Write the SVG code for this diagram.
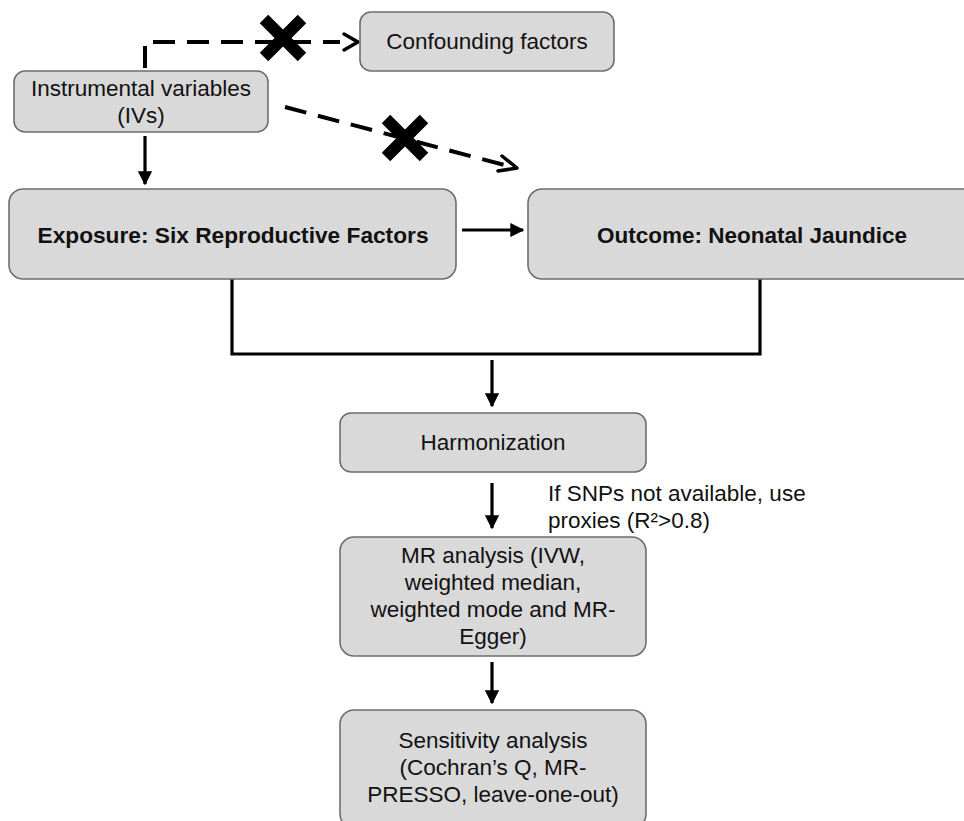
<svg xmlns="http://www.w3.org/2000/svg" width="964" height="821" viewBox="0 0 964 821">
<style>
  .box { fill: #d9d9d9; stroke: #6e6e6e; stroke-width: 1.6; }
  .t { font-family: "Liberation Sans", Arial, sans-serif; font-size: 22.5px; fill: #111; text-anchor: middle; }
  .tb { font-family: "Liberation Sans", Arial, sans-serif; font-size: 22.5px; font-weight: bold; fill: #111; text-anchor: middle; }
  .side { font-family: "Liberation Sans", Arial, sans-serif; font-size: 22.5px; fill: #111; }
  .solid { stroke: #000; stroke-width: 3.2; fill: none; }
  .dash { stroke: #000; stroke-width: 4; fill: none; stroke-dasharray: 22 12; }
  .open { stroke: #000; stroke-width: 3.5; fill: none; stroke-linecap: round; stroke-linejoin: round; }
  .cross { stroke: #000; stroke-width: 12; fill: none; }
</style>
<defs>
  <marker id="ah" viewBox="0 0 10 10" refX="9" refY="5" markerWidth="4.4" markerHeight="4.4" orient="auto" markerUnits="strokeWidth">
    <path d="M0,0 L10,5 L0,10 Z" fill="#000"/>
  </marker>
</defs>

<g id="connectors">
  <path class="dash" d="M145,68 V42 H340"/>
  <path class="open" d="M344,34 L358,42 L344,50"/>
  <path class="dash" d="M285,107 L508,166"/>
  <path class="open" d="M502,156 L517,168 L498,171"/>
  <line class="solid" x1="145" y1="136" x2="145" y2="184" marker-end="url(#ah)"/>
  <line class="solid" x1="462" y1="230" x2="523" y2="230" marker-end="url(#ah)"/>
  <path class="solid" d="M232,279 V354 H760 V279"/>
  <line class="solid" x1="492" y1="360" x2="492" y2="406" marker-end="url(#ah)"/>
  <line class="solid" x1="492" y1="483" x2="492" y2="528" marker-end="url(#ah)"/>
  <line class="solid" x1="492" y1="662" x2="492" y2="703" marker-end="url(#ah)"/>
  <path class="cross" d="M264,19 L302,57 M302,19 L264,57"/>
  <path class="cross" d="M386,119 L424,157 M424,119 L386,157"/>
</g>

<g id="confounding">
  <rect class="box" x="360" y="12" width="254" height="59" rx="11"/>
  <text class="t" x="487" y="49">Confounding factors</text>
</g>

<g id="iv">
  <rect class="box" x="14" y="71" width="254" height="61" rx="11"/>
  <text class="t" x="141" y="96">Instrumental variables</text>
  <text class="t" x="141" y="123">(IVs)</text>
</g>

<g id="exposure">
  <rect class="box" x="9" y="189" width="447" height="90" rx="14"/>
  <text class="tb" x="233" y="243" textLength="391" lengthAdjust="spacingAndGlyphs">Exposure: Six Reproductive Factors</text>
</g>

<g id="outcome">
  <rect class="box" x="528" y="189" width="450" height="90" rx="14"/>
  <text class="tb" x="752" y="243" textLength="310" lengthAdjust="spacingAndGlyphs">Outcome: Neonatal Jaundice</text>
</g>

<g id="harmonization">
  <rect class="box" x="340" y="413" width="306" height="59" rx="11"/>
  <text class="t" x="493" y="450">Harmonization</text>
</g>

<g id="proxy-note">
  <text class="side" x="548" y="501">If SNPs not available, use</text>
  <text class="side" x="548" y="528">proxies (R²&gt;0.8)</text>
</g>

<g id="mr">
  <rect class="box" x="340" y="537" width="306" height="119" rx="14"/>
  <text class="t" x="493" y="563">MR analysis (IVW,</text>
  <text class="t" x="493" y="590">weighted median,</text>
  <text class="t" x="493" y="617">weighted mode and MR-</text>
  <text class="t" x="493" y="644">Egger)</text>
</g>

<g id="sensitivity">
  <rect class="box" x="340" y="710" width="306" height="118" rx="14"/>
  <text class="t" x="493" y="748">Sensitivity analysis</text>
  <text class="t" x="493" y="775">(Cochran’s Q, MR-</text>
  <text class="t" x="493" y="802">PRESSO, leave-one-out)</text>
</g>
</svg>
